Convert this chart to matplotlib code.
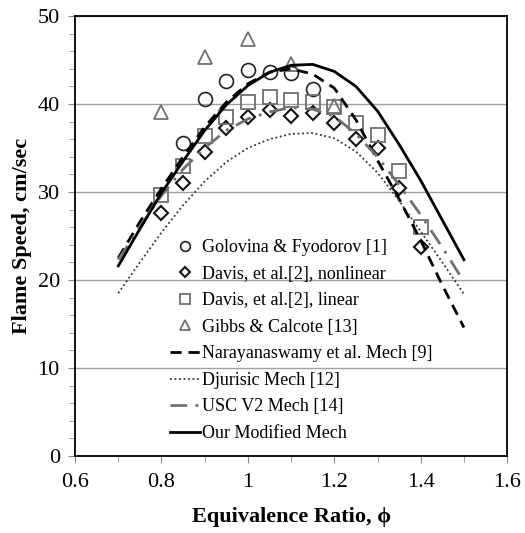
import numpy as np
import matplotlib
matplotlib.use("Agg")
import matplotlib.pyplot as plt

plt.rcParams['font.family'] = ['Liberation Serif', 'DejaVu Serif']

# experimental data
phi_golovina = [0.85, 0.90, 0.95, 1.00, 1.05, 1.10, 1.15]
sl_golovina = [35.6, 40.6, 42.6, 43.9, 43.6, 43.5, 41.7]

phi_davis = [0.80, 0.85, 0.90, 0.95, 1.00, 1.05, 1.10, 1.15, 1.20, 1.25, 1.30, 1.35, 1.40]
sl_davis_nonlin = [27.6, 31.0, 34.5, 37.3, 38.5, 39.3, 38.6, 39.0, 37.8, 36.0, 35.0, 30.4, 23.8]
sl_davis_lin = [29.7, 33.0, 36.4, 38.5, 40.2, 40.8, 40.4, 40.2, 39.7, 37.8, 36.5, 32.4, 26.0]

phi_gibbs = [0.80, 0.90, 1.00, 1.10, 1.20]
sl_gibbs = [39.1, 45.3, 47.4, 44.6, 39.8]

# model curves
phi_mech = [0.70, 0.75, 0.80, 0.85, 0.90, 0.95, 1.00, 1.05, 1.10, 1.15,
            1.20, 1.25, 1.30, 1.35, 1.40, 1.45, 1.50]
sl_naray = [22.5, 26.6, 30.4, 34.0, 37.4, 40.2, 42.3, 43.6, 44.0, 43.4,
            41.8, 38.2, 33.6, 29.2, 24.5, 19.4, 14.6]
sl_djur = [18.5, 22.0, 25.4, 28.5, 31.2, 33.4, 35.0, 36.0, 36.6, 36.7,
           36.1, 34.6, 32.2, 29.0, 25.5, 22.0, 18.4]
sl_usc = [22.3, 26.0, 29.6, 32.6, 35.0, 37.0, 38.3, 39.1, 39.6, 39.4,
          38.6, 36.6, 34.0, 30.8, 27.4, 23.7, 19.8]
sl_ours = [21.6, 25.8, 29.9, 33.5, 37.0, 39.9, 42.1, 43.6, 44.4, 44.5,
           43.7, 42.0, 39.2, 35.4, 31.3, 26.8, 22.3]

fig = plt.figure(figsize=(5.25, 5.33), dpi=100)
ax = fig.add_axes([0.143, 0.1445, 0.823, 0.8255])

gray = '#707070'
ms = 10
ax.plot(phi_golovina, sl_golovina, 'o', ls='none', ms=ms, mfc='none', mec='#222222', mew=1.2,
        label='Golovina & Fyodorov [1]')
ax.plot(phi_davis, sl_davis_nonlin, 'D', ls='none', ms=7.5, mfc='none', mec='#111111', mew=1.5,
        label='Davis, et al.[2], nonlinear')
ax.plot(phi_davis, sl_davis_lin, 's', ls='none', ms=ms, mfc='none', mec=gray, mew=1.3,
        label='Davis, et al.[2], linear')
ax.plot(phi_gibbs, sl_gibbs, '^', ls='none', ms=ms, mfc='none', mec=gray, mew=1.3,
        label='Gibbs & Calcote [13]')

ax.plot(phi_mech, sl_naray, color='black', lw=2, dashes=(4, 2.5),
        label='Narayanaswamy et al. Mech [9]')
ax.plot(phi_mech, sl_djur, color='#333333', lw=1.3, dashes=(1, 1.5),
        label='Djurisic Mech [12]')
ax.plot(phi_mech, sl_usc, color=gray, lw=2, dashes=(6, 3, 1, 3),
        label='USC V2 Mech [14]')
ax.plot(phi_mech, sl_ours, color='black', lw=2, label='Our Modified Mech')

ax.set_xlim(0.6, 1.6)
ax.set_ylim(0, 50)
ax.set_xticks(np.arange(0.6, 1.61, 0.2))
ax.set_xticklabels(['0.6', '0.8', '1', '1.2', '1.4', '1.6'])
ax.set_xticks(np.arange(0.6, 1.61, 0.1), minor=True)
ax.set_yticks(np.arange(0, 51, 10))
ax.set_yticks(np.arange(0, 51, 2), minor=True)
ax.yaxis.grid(True, color='#a0a0a0', lw=1)
ax.set_axisbelow(True)
ax.tick_params(axis='both', which='major', labelsize=16, direction='out', length=5, color='#888888')
ax.tick_params(axis='x', which='major', pad=7)
ax.tick_params(axis='y', which='major', pad=6)
ax.tick_params(axis='both', which='minor', direction='out', length=4, color='#888888')
for s in ax.spines.values():
    s.set_linewidth(1.3)

ax.set_xlabel('Equivalence Ratio, ϕ', fontsize=16, fontweight='bold', labelpad=11)
ax.set_ylabel('Flame Speed, cm/sec', fontsize=16, fontweight='bold', labelpad=4)

ax.legend(loc='upper left', bbox_to_anchor=(0.22, 0.493), frameon=False, fontsize=13,
          handlelength=1.66, handletextpad=0.12, labelspacing=0.53, borderaxespad=0,
          borderpad=0, markerscale=0.7)

fig.savefig('out.png', dpi=100)
